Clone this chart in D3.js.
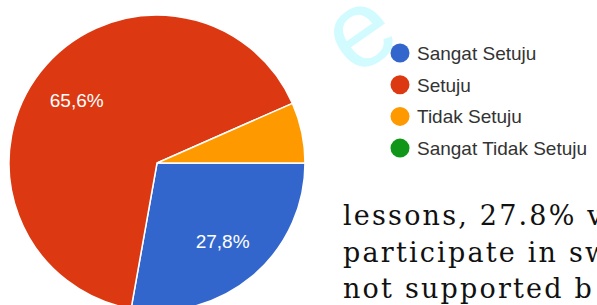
<!DOCTYPE html>
<html>
<head>
<meta charset="utf-8">
<script src="https://cdn.jsdelivr.net/npm/d3@7"></script>
<style>
  html, body { margin: 0; padding: 0; background: #fff; overflow: hidden; }
  svg { display: block; }
</style>
</head>
<body>
<div id="chart"></div>
<script>
// survey answers (percent)
var categories = ["Sangat Setuju", "Setuju", "Tidak Setuju", "Sangat Tidak Setuju"];
var values = [27.8, 65.6, 6.6, 0];
var colors = ["#3366cc", "#dc3912", "#ff9900", "#109618"];
var labels = ["27,8%", "65,6%", "6,6%", ""];

// body text of the page below the legend
var textLines = ["lessons, 27.8% v", "participate in sw", "not supported b"];

function setup() {
  var width = 597, height = 305;
  var cx = 157, cy = 163, r = 148;

  var svg = d3.select("#chart")
    .append("svg")
    .attr("width", width)
    .attr("height", height);

  // faint watermark letter
  svg.append("text")
    .attr("transform", "translate(362,36) rotate(-35)")
    .attr("x", 0)
    .attr("y", 30)
    .attr("text-anchor", "middle")
    .attr("font-family", "Liberation Sans, Arial, sans-serif")
    .attr("font-size", 110)
    .attr("fill", "#d2fbff")
    .text("e");

  var data = categories.map(function(c, i) {
    return {name: c, value: values[i], color: colors[i], label: labels[i]};
  });

  var pie = d3.pie()
    .sort(null)
    .value(function(d) { return d.value; })
    .startAngle(Math.PI / 2)
    .endAngle(Math.PI / 2 + 2 * Math.PI);

  var arc = d3.arc().innerRadius(0).outerRadius(r);
  var labelArc = d3.arc().innerRadius(r * 0.69).outerRadius(r * 0.69);

  var g = svg.append("g").attr("transform", "translate(" + cx + "," + cy + ")");

  var slices = pie(data);

  g.selectAll("path")
    .data(slices.filter(function(d) { return d.data.value > 0; }))
    .enter()
    .append("path")
    .attr("d", arc)
    .attr("fill", function(d) { return d.data.color; })
    .attr("stroke", "#fff")
    .attr("stroke-width", 1.5);

  g.selectAll("text.pct")
    .data(slices.filter(function(d) { return d.data.value > 10; }))
    .enter()
    .append("text")
    .attr("class", "pct")
    .attr("transform", function(d) { return "translate(" + labelArc.centroid(d) + ")"; })
    .attr("dy", "0.35em")
    .attr("text-anchor", "middle")
    .attr("font-family", "Liberation Sans, Arial, sans-serif")
    .attr("font-size", 19)
    .attr("fill", "#fff")
    .text(function(d) { return d.data.label; });

  // legend
  var legend = svg.append("g").attr("transform", "translate(400,53)");
  var item = legend.selectAll("g")
    .data(data)
    .enter()
    .append("g")
    .attr("transform", function(d, i) { return "translate(0," + (i * 31.7) + ")"; });

  item.append("circle")
    .attr("r", 9.5)
    .attr("fill", function(d) { return d.color; });

  item.append("text")
    .attr("x", 17)
    .attr("y", 7)
    .attr("font-family", "Liberation Sans, Arial, sans-serif")
    .attr("font-size", 19)
    .attr("fill", "#333")
    .text(function(d) { return d.name; });

  // serif paragraph fragment (cut by the right edge, as in the source)
  svg.selectAll("text.body")
    .data(textLines)
    .enter()
    .append("text")
    .attr("class", "body")
    .attr("x", 343)
    .attr("y", function(d, i) { return 225 + i * 36.5; })
    .attr("font-family", "DejaVu Serif, serif")
    .attr("font-size", 27)
    .attr("letter-spacing", 2.2)
    .attr("fill", "#111")
    .text(function(d) { return d; });
}

window.addEventListener('load', setup);
</script>
</body>
</html>
